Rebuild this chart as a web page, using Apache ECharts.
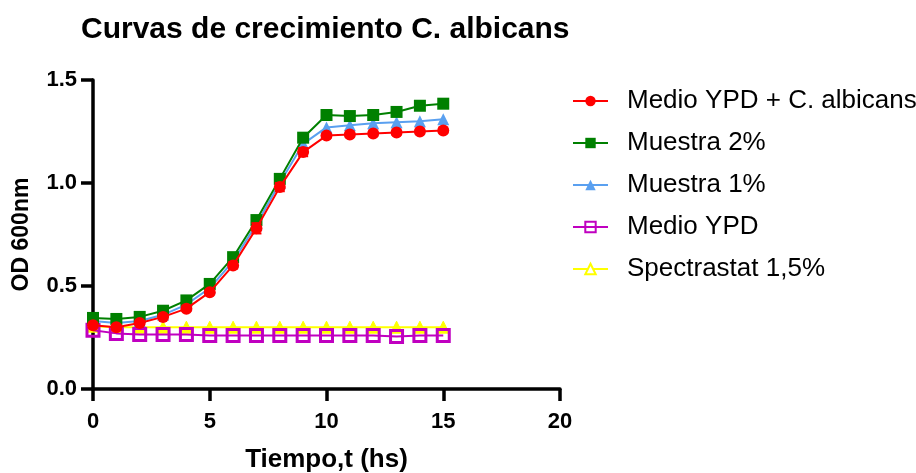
<!DOCTYPE html>
<html>
<head>
<meta charset="utf-8">
<script src="https://cdn.jsdelivr.net/npm/echarts@6/dist/echarts.min.js"></script>
<style>
  html, body { margin: 0; padding: 0; background: #fff; }
  #chart { width: 916px; height: 473px; }
</style>
</head>
<body>
<div id="chart"></div>
<script>
// Time points (hours)
var hours = [0, 1, 2, 3, 4, 5, 6, 7, 8, 9, 10, 11, 12, 13, 14, 15];

// OD 600nm readings per condition
var ypdAlbicans = [0.31, 0.30, 0.32, 0.35, 0.39, 0.47, 0.60, 0.78, 0.98, 1.15, 1.23, 1.235, 1.24, 1.245, 1.25, 1.255];
var ypdAlbicansSd = [0.01, 0.01, 0.01, 0.01, 0.01, 0.01, 0.015, 0.025, 0.02, 0.02, 0.01, 0.01, 0.01, 0.01, 0.01, 0.01];
var muestra2 = [0.345, 0.34, 0.35, 0.38, 0.43, 0.51, 0.64, 0.82, 1.02, 1.22, 1.33, 1.325, 1.33, 1.345, 1.375, 1.385];
var muestra1 = [0.33, 0.32, 0.33, 0.36, 0.41, 0.49, 0.62, 0.80, 1.00, 1.19, 1.27, 1.28, 1.29, 1.295, 1.30, 1.31];
var medioYpd = [0.285, 0.27, 0.265, 0.265, 0.265, 0.26, 0.26, 0.26, 0.26, 0.26, 0.26, 0.26, 0.26, 0.255, 0.26, 0.26];
var spectrastat = [0.305, 0.30, 0.30, 0.30, 0.30, 0.30, 0.30, 0.30, 0.30, 0.30, 0.30, 0.30, 0.30, 0.30, 0.30, 0.30];

// Axis ticks
var xTicks = [0, 5, 10, 15, 20];
var yTicks = [0.0, 0.5, 1.0, 1.5];

var seriesNames = ['Medio YPD + C. albicans', 'Muestra 2%', 'Muestra 1%', 'Medio YPD', 'Spectrastat 1,5%'];
var seriesColors = ['#ff0000', '#008000', '#5aa0f0', '#c000c0', '#ffff00'];

function pairs(vals) {
  return hours.map(function (h, i) { return [h, vals[i]]; });
}

var chart = echarts.init(document.getElementById('chart'), null, { renderer: 'canvas' });
var FONT = "'Liberation Sans', Arial, sans-serif";

chart.setOption({
  animation: false,
  backgroundColor: '#ffffff',
  title: {
    text: 'Curvas de crecimiento C. albicans',
    left: 76,
    top: 10,
    textStyle: { fontFamily: FONT, fontSize: 30, fontWeight: 'bold', color: '#000' }
  },
  legend: {
    orient: 'vertical',
    left: 567,
    top: 83,
    itemGap: 16,
    itemWidth: 35,
    itemHeight: 13,
    textStyle: { fontFamily: FONT, fontSize: 26, color: '#000', padding: [0, 0, 0, 14] },
    data: [
      { name: seriesNames[0] },
      { name: seriesNames[1] },
      { name: seriesNames[2] },
      { name: seriesNames[3] },
      { name: seriesNames[4], itemStyle: { color: '#ffffff', borderColor: seriesColors[4], borderWidth: 2 } }
    ]
  },
  grid: { left: 93, right: 356, top: 80, bottom: 84, containLabel: false, outerBoundsMode: 'none' },
  xAxis: {
    type: 'value',
    min: xTicks[0],
    max: xTicks[xTicks.length - 1],
    interval: 5,
    name: 'Tiempo,t (hs)',
    nameLocation: 'middle',
    nameGap: 58,
    nameTextStyle: { fontFamily: FONT, fontSize: 26, fontWeight: 'bold', color: '#000', verticalAlign: 'top' },
    axisLine: { onZero: false, lineStyle: { color: '#000', width: 3.5 } },
    axisTick: { length: 12, lineStyle: { color: '#000', width: 3.5 } },
    axisLabel: { fontFamily: FONT, fontSize: 22, fontWeight: 'bold', color: '#000', margin: 22 },
    splitLine: { show: false }
  },
  yAxis: {
    type: 'value',
    min: yTicks[0],
    max: yTicks[yTicks.length - 1],
    interval: 0.5,
    name: 'OD 600nm',
    nameLocation: 'middle',
    nameGap: 60,
    nameTextStyle: { fontFamily: FONT, fontSize: 23, fontWeight: 'bold', color: '#000' },
    axisLine: { show: true, onZero: false, lineStyle: { color: '#000', width: 3.5 } },
    axisTick: { show: true, length: 12, lineStyle: { color: '#000', width: 3.5 } },
    axisLabel: {
      fontFamily: FONT, fontSize: 22, fontWeight: 'bold', color: '#000', margin: 16,
      formatter: function (v) { return v.toFixed(1); }
    },
    splitLine: { show: false }
  },
  series: [
    {
      name: seriesNames[4], type: 'line', z: 2,
      data: pairs(spectrastat),
      symbol: 'triangle', symbolSize: 12,
      lineStyle: { color: seriesColors[4], width: 2 },
      itemStyle: { color: seriesColors[4], borderColor: seriesColors[4], borderWidth: 1 }
    },
    {
      name: seriesNames[3], type: 'line', z: 3,
      data: pairs(medioYpd),
      symbol: 'rect', symbolSize: 12,
      lineStyle: { color: seriesColors[3], width: 2 },
      itemStyle: { color: 'rgba(255,255,255,0)', borderColor: seriesColors[3], borderWidth: 3 }
    },
    {
      name: seriesNames[2], type: 'line', z: 4,
      data: pairs(muestra1),
      symbol: 'triangle', symbolSize: 12,
      lineStyle: { color: seriesColors[2], width: 2 },
      itemStyle: { color: seriesColors[2] }
    },
    {
      name: seriesNames[1], type: 'line', z: 5,
      data: pairs(muestra2),
      symbol: 'rect', symbolSize: 12,
      lineStyle: { color: seriesColors[1], width: 2 },
      itemStyle: { color: seriesColors[1] }
    },
    {
      name: seriesNames[0], type: 'line', z: 7,
      data: pairs(ypdAlbicans),
      symbol: 'circle', symbolSize: 12,
      lineStyle: { color: seriesColors[0], width: 2 },
      itemStyle: { color: seriesColors[0] }
    },
    {
      // error bars (mean ± SD) for the C. albicans culture
      name: seriesNames[0] + ' SD', type: 'custom', z: 6,
      data: hours.map(function (h, i) { return [h, ypdAlbicans[i] - ypdAlbicansSd[i], ypdAlbicans[i] + ypdAlbicansSd[i]]; }),
      renderItem: function (params, api) {
        var lo = api.coord([api.value(0), api.value(1)]);
        var hi = api.coord([api.value(0), api.value(2)]);
        var w = 5;
        var st = { stroke: seriesColors[0], lineWidth: 2 };
        return {
          type: 'group',
          children: [
            { type: 'line', shape: { x1: lo[0], y1: lo[1], x2: hi[0], y2: hi[1] }, style: st },
            { type: 'line', shape: { x1: lo[0] - w, y1: lo[1], x2: lo[0] + w, y2: lo[1] }, style: st },
            { type: 'line', shape: { x1: hi[0] - w, y1: hi[1], x2: hi[0] + w, y2: hi[1] }, style: st }
          ]
        };
      },
      encode: { x: 0, y: [1, 2] },
      silent: true
    }
  ]
});
</script>
</body>
</html>
